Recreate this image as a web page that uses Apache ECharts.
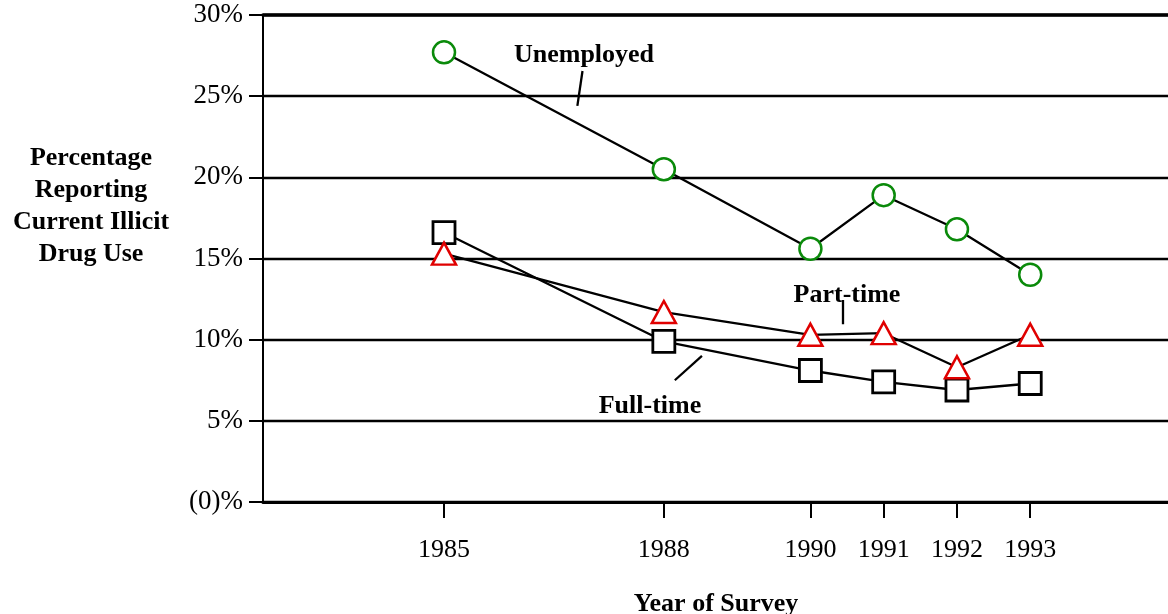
<!DOCTYPE html>
<html>
<head>
<meta charset="utf-8">
<script src="https://cdn.jsdelivr.net/npm/echarts@6/dist/echarts.min.js"></script>
<style>
  html, body { margin: 0; padding: 0; background: #fff; }
  #chart { width: 1168px; height: 614px; }
</style>
</head>
<body>
<div id="chart"></div>
<script>
// survey years and % reporting current illicit drug use
const years = [1985, 1988, 1990, 1991, 1992, 1993]
const unemployed = [27.7, 20.5, 15.6, 18.9, 16.8, 14.0]
const partTime = [15.3, 11.7, 10.3, 10.4, 8.3, 10.3]
const fullTime = [16.6, 9.9, 8.1, 7.4, 6.9, 7.3]

// leader lines from the text labels to the curves (data coords)
const leaders = [
  [[1986.89, 26.55], [1986.82, 24.4]],
  [[1990.44, 12.45], [1990.44, 10.95]],
  [[1988.52, 9.0], [1988.15, 7.5]]
]

const font = '"Liberation Serif", "Times New Roman", serif'

function pairs(vals) {
  return years.map((y, i) => [y, vals[i]])
}

const chart = echarts.init(document.getElementById('chart'))

const option = {
  animation: false,
  backgroundColor: '#fff',
  grid: { left: 263, top: 15, right: 0, bottom: 112 },
  xAxis: [
    {
      type: 'value',
      min: 1982.53,
      max: 1994.88,
      position: 'bottom',
      axisLine: { show: true, lineStyle: { color: '#000', width: 3 } },
      axisTick: { show: true, length: 16, lineStyle: { color: '#000', width: 2 }, customValues: years },
      axisLabel: {
        show: true, customValues: years, margin: 35,
        color: '#000', fontFamily: font, fontSize: 26,
        formatter: v => String(v)
      },
      splitLine: { show: false }
    },
    {
      type: 'value',
      min: 1982.53,
      max: 1994.88,
      position: 'top',
      axisLine: { show: true, lineStyle: { color: '#000', width: 3.5 } },
      axisTick: { show: false },
      axisLabel: { show: false },
      splitLine: { show: false }
    }
  ],
  yAxis: {
    type: 'value',
    min: 0,
    max: 30,
    interval: 5,
    axisLine: { show: true, lineStyle: { color: '#000', width: 2 } },
    axisTick: { show: true, length: 14, lineStyle: { color: '#000', width: 2 } },
    axisLabel: {
      margin: 20, color: '#000', fontFamily: font, fontSize: 27,
      formatter: v => v === 0 ? '(0)%' : v + '%'
    },
    splitLine: { show: true, lineStyle: { color: '#000', width: 2.3 } }
  },
  series: [
    {
      name: 'Unemployed',
      type: 'line',
      data: pairs(unemployed),
      symbol: 'circle',
      symbolSize: 22,
      lineStyle: { color: '#000', width: 2.3 },
      itemStyle: { color: '#fff', borderColor: '#0a8a0a', borderWidth: 2.5 },
      z: 5
    },
    {
      name: 'Part-time',
      type: 'line',
      data: pairs(partTime),
      symbol: 'triangle',
      symbolSize: [24, 22],
      lineStyle: { color: '#000', width: 2.3 },
      itemStyle: { color: '#fff', borderColor: '#e00000', borderWidth: 2.5 },
      z: 4
    },
    {
      name: 'Full-time',
      type: 'line',
      data: pairs(fullTime),
      symbol: 'rect',
      symbolSize: 22,
      lineStyle: { color: '#000', width: 2.3 },
      itemStyle: { color: '#fff', borderColor: '#000', borderWidth: 2.8 },
      z: 3
    },
    {
      type: 'lines',
      coordinateSystem: 'cartesian2d',
      silent: true,
      lineStyle: { color: '#000', width: 2.3, opacity: 1 },
      data: leaders.map(c => ({ coords: c }))
    }
  ],
  graphic: [
    {
      type: 'text',
      style: {
        x: 91, y: 206, text: 'Percentage\nReporting\nCurrent Illicit\nDrug Use',
        font: 'bold 26px ' + font, fill: '#000', lineHeight: 32,
        align: 'center', verticalAlign: 'middle'
      }
    },
    {
      type: 'text',
      style: { x: 584, y: 55, text: 'Unemployed', font: 'bold 26px ' + font, fill: '#000', align: 'center', verticalAlign: 'middle' }
    },
    {
      type: 'text',
      style: { x: 847, y: 295, text: 'Part-time', font: 'bold 26px ' + font, fill: '#000', align: 'center', verticalAlign: 'middle' }
    },
    {
      type: 'text',
      style: { x: 650, y: 406, text: 'Full-time', font: 'bold 26px ' + font, fill: '#000', align: 'center', verticalAlign: 'middle' }
    },
    {
      type: 'text',
      style: { x: 716, y: 604, text: 'Year of Survey', font: 'bold 26px ' + font, fill: '#000', align: 'center', verticalAlign: 'middle' }
    }
  ]
}

chart.setOption(option)
</script>
</body>
</html>
